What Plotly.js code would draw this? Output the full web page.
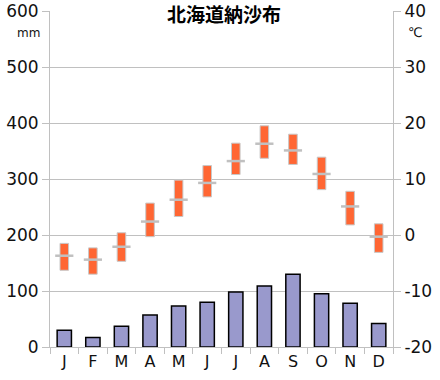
<!DOCTYPE html>
<html>
<head>
<meta charset="utf-8">
<script src="https://cdn.plot.ly/plotly-3.0.1.min.js"></script>
<style>html,body{margin:0;padding:0;background:#fff;}#chart{width:440px;height:380px;}</style>
</head>
<body>
<div id="chart"></div>
<script>
const months = ["Jan","Feb","Mar","Apr","May","Jun","Jul","Aug","Sep","Oct","Nov","Dec"];
const monthLabels = ["J","F","M","A","M","J","J","A","S","O","N","D"];
const precip = [30, 17, 37, 57, 73, 80, 98, 109, 130, 95, 78, 42];
const tMax = [-1.5, -2.3, 0.4, 5.7, 9.8, 12.4, 16.4, 19.5, 18.0, 13.9, 7.8, 2.0];
const tMin = [-6.3, -7.0, -4.7, -0.3, 3.3, 6.8, 10.8, 13.7, 12.6, 8.1, 1.8, -3.1];
const tMean = [-3.7, -4.4, -2.1, 2.4, 6.3, 9.3, 13.2, 16.3, 15.1, 10.9, 5.1, -0.3];
const leftTicks = [0, 100, 200, 300, 400, 500, 600];
const rightTicks = [-20, -10, 0, 10, 20, 30, 40];
const rightTickText = ["-20", "-10", "0", "10", "20", "30", "40"];

const span = tMax.map((v, i) => v - tMin[i]);
const font = "DejaVu Sans, Verdana, sans-serif";

const traces = [
  {type: "bar", x: months, y: precip, yaxis: "y", width: 0.5,
   marker: {color: "#9999CC", line: {color: "#000", width: 1.5}}, hoverinfo: "y"},
  {type: "bar", x: months, y: span, base: tMin, yaxis: "y2", width: 0.3,
   marker: {color: "#FF6633", line: {color: "#C8C8C8", width: 1}}},
  {type: "scatter", mode: "markers", x: months, y: tMean, yaxis: "y2",
   marker: {symbol: "line-ew", size: 13, line: {color: "#C0C0C0", width: 2.5}}}
];

const layout = {
  width: 440, height: 380,
  margin: {l: 50, r: 47, t: 11, b: 33},
  paper_bgcolor: "#fff", plot_bgcolor: "#fff",
  showlegend: false, barmode: "overlay",
  font: {family: font, color: "#111", size: 16},
  xaxis: {type: "category", categoryarray: months, tickmode: "array", tickvals: months, ticktext: monthLabels,
    tickson: "boundaries", ticks: "outside", ticklen: 6, tickcolor: "#C0C0C0",
    showline: true, linecolor: "#C0C0C0", linewidth: 1, showgrid: false,
    tickfont: {size: 16, family: font, color: "#111"}, range: [-0.5, 11.5]},
  yaxis: {range: [0, 600], tickmode: "array", tickvals: leftTicks, ticks: "outside", ticklen: 7, tickcolor: "#C0C0C0",
    showline: true, linecolor: "#C0C0C0", gridcolor: "#C0C0C0", zeroline: false,
    tickfont: {size: 17, family: font, color: "#111"}},
  yaxis2: {range: [-20, 40], overlaying: "y", side: "right", tickmode: "array", tickvals: rightTicks, ticktext: rightTickText,
    ticks: "outside", ticklen: 7, tickcolor: "#C0C0C0", showline: true, linecolor: "#C0C0C0",
    showgrid: false, zeroline: false, tickfont: {size: 17, family: font, color: "#111"}},
  annotations: [
    {text: "北海道納沙布", xref: "paper", yref: "paper", x: 0.508, y: 0.994, yanchor: "middle", xanchor: "center",
     showarrow: false, bgcolor: "#fff", borderpad: 3,
     font: {family: "Noto Sans CJK JP", size: 19, color: "#000", weight: "bold"}},
    {text: "mm", xref: "paper", yref: "paper", x: 0, xshift: -22, y: 0.935, xanchor: "center", yanchor: "middle", showarrow: false,
     font: {family: font, size: 12, color: "#111"}},
    {text: "℃", xref: "paper", yref: "paper", x: 1, xshift: 22, y: 0.935, xanchor: "center", yanchor: "middle", showarrow: false,
     font: {family: font, size: 13, color: "#111"}}
  ]
};

Plotly.newPlot("chart", traces, layout, {displayModeBar: false, staticPlot: true});
</script>
</body>
</html>
